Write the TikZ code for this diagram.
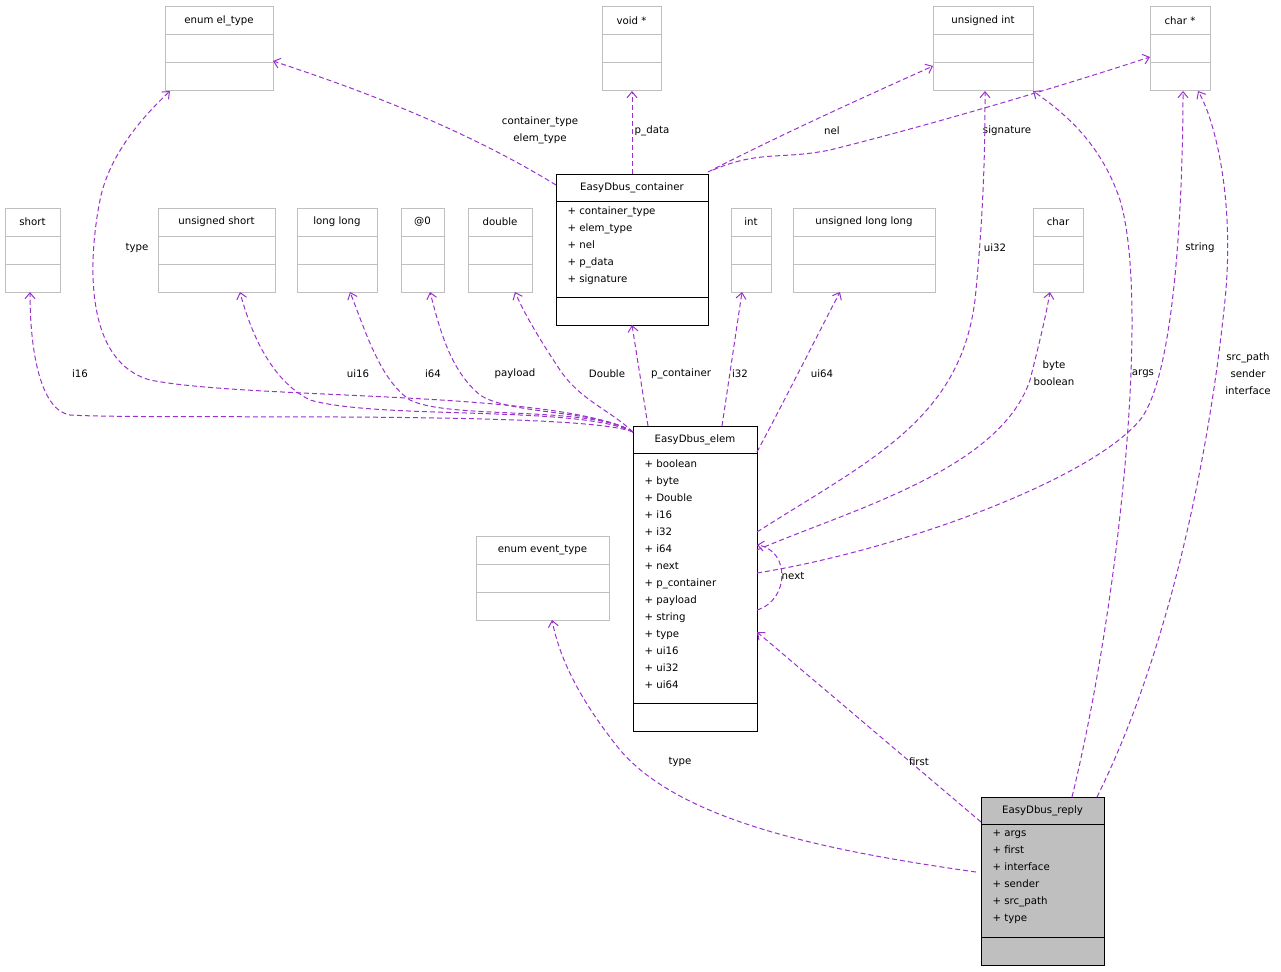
\documentclass[tikz,border=0pt]{standalone}
\usepackage{fontspec}
\setmainfont{DejaVu Sans}
\usetikzlibrary{arrows.meta}
\definecolor{edge}{HTML}{9A32CD}
\definecolor{gbox}{HTML}{BFBFBF}
\begin{document}
\begin{tikzpicture}[x=1pt,y=-1pt,line width=1pt,
  lbl/.style={font=\fontsize{10.2}{17}\selectfont,inner sep=0pt,align=center},
  dep/.style={draw=edge,dash pattern=on 5pt off 3pt,-{Straight Barb[length=6pt,width=10pt]}}]
\useasboundingbox (0,0) rectangle (1281,971);
\newcommand\ubox[9]{%
  \draw[#9] (#2,#3) rectangle (#4,#5);
  \draw[#9] (#2,#6) -- (#4,#6) (#2,#7) -- (#4,#7);
  \node[lbl,anchor=center] (#1) at ({(#2+#4)/2},{(#3+#6)/2}) {#8};}
\fill[gbox] (981,797) rectangle (1104,965);
\ubox{eltype}{165}{7}{273}{91}{35}{63}{enum el\_type}{gbox}
\ubox{voidp}{602}{7}{661}{91}{35}{63}{void *}{gbox}
\ubox{uint}{933}{7}{1033}{91}{35}{63}{unsigned int}{gbox}
\ubox{charp}{1150}{7}{1210}{91}{35}{63}{char *}{gbox}
\ubox{short}{5}{208}{60}{292}{236}{264}{short}{gbox}
\ubox{ushort}{158}{208}{275}{292}{236}{264}{unsigned short}{gbox}
\ubox{ll}{297}{208}{377}{292}{236}{264}{long long}{gbox}
\ubox{at0}{401}{208}{444}{292}{236}{264}{@0}{gbox}
\ubox{dbl}{468}{208}{532}{292}{236}{264}{double}{gbox}
\ubox{int}{731}{208}{771}{292}{236}{264}{int}{gbox}
\ubox{ull}{793}{208}{935}{292}{236}{264}{unsigned long long}{gbox}
\ubox{chr}{1033}{208}{1083}{292}{236}{264}{char}{gbox}
\ubox{evt}{476}{536}{609}{620}{564}{592}{enum event\_type}{gbox}
\ubox{cont}{556}{174}{708}{325}{201}{297}{EasyDbus\_container}{black}
\ubox{elem}{633}{426}{757}{731}{453}{703}{EasyDbus\_elem}{black}
\ubox{reply}{981}{797}{1104}{965}{824}{937}{EasyDbus\_reply}{black}
\node[lbl,anchor=north west,align=left] (contA) at (567,206) {+ container\_type\\+ elem\_type\\+ nel\\+ p\_data\\+ signature};
\node[lbl,anchor=north west,align=left] (elemA) at (644,459) {+ boolean\\+ byte\\+ Double\\+ i16\\+ i32\\+ i64\\+ next\\+ p\_container\\+ payload\\+ string\\+ type\\+ ui16\\+ ui32\\+ ui64};
\node[lbl,anchor=north west,align=left] (replyA) at (992,830) {+ args\\+ first\\+ interface\\+ sender\\+ src\_path\\+ type};
% container edges
\draw[dep] (556,185) .. controls (450,120) and (330,80) .. (273,61);
\draw[dep] (632,174) -- (632,91);
\draw[dep] (708,172) .. controls (790,130) and (880,90) .. (933,66);
\draw[dep] (713,170) .. controls (760,150) and (780,160) .. (830,150) .. controls (950,120) and (1080,80) .. (1150,57);
\node[lbl] (l1) at (540,130) {container\_type\\elem\_type};
\node[lbl] (l2) at (652,131) {p\_data};
\node[lbl] (l3) at (832,131) {nel};
\node[lbl] (l4) at (1007,131) {signature};
% elem edges
\draw[dep] (648,426) -- (632,325);
\draw[dep] (633,432) .. controls (580,410) and (150,420) .. (70,415) .. controls (40,410) and (30,350) .. (30,292);
\draw[dep] (633,432) .. controls (560,390) and (250,400) .. (150,380) .. controls (80,360) and (90,250) .. (100,200) .. controls (110,150) and (150,110) .. (170,91);
\draw[dep] (633,432) .. controls (580,405) and (380,420) .. (310,400) .. controls (270,380) and (250,330) .. (240,292);
\draw[dep] (633,432) .. controls (590,405) and (450,420) .. (410,400) .. controls (380,380) and (365,330) .. (350,292);
\draw[dep] (633,432) .. controls (600,410) and (510,415) .. (480,395) .. controls (450,370) and (440,330) .. (430,292);
\draw[dep] (633,432) .. controls (610,410) and (580,400) .. (560,370) .. controls (540,340) and (525,315) .. (515,292);
\draw[dep] (722,426) -- (742,292);
\draw[dep] (757,452) .. controls (790,390) and (820,330) .. (840,292);
\draw[dep] (757,532) .. controls (870,460) and (960,420) .. (975,300) .. controls (985,200) and (985,130) .. (985,91);
\draw[dep] (757,550) .. controls (850,510) and (1000,470) .. (1030,380) .. controls (1040,340) and (1045,320) .. (1050,292);
\draw[dep] (757,573) .. controls (900,550) and (1090,480) .. (1140,420) .. controls (1180,370) and (1183,150) .. (1183,91);
\draw[dep] (757,610) .. controls (790,600) and (790,550) .. (757,545);
\node[lbl] (m1) at (681,374) {p\_container};
\node[lbl] (m2) at (80,374) {i16};
\node[lbl] (m3) at (137,248) {type};
\node[lbl] (m4) at (358,374) {ui16};
\node[lbl] (m5) at (433,374) {i64};
\node[lbl] (m6) at (515,374) {payload};
\node[lbl] (m7) at (607,374) {Double};
\node[lbl] (m8) at (740,374) {i32};
\node[lbl] (m9) at (822,374) {ui64};
\node[lbl] (m10) at (995,248) {ui32};
\node[lbl] (m11) at (1054,373) {byte\\boolean};
\node[lbl] (m12) at (1200,248) {string};
\node[lbl] (m13) at (793,576) {next};
% reply edges
\draw[dep] (981,822) -- (757,632);
\draw[dep] (976,872) .. controls (820,850) and (680,820) .. (620,750) .. controls (580,700) and (560,660) .. (552,620);
\draw[dep] (1072,797) .. controls (1120,600) and (1150,300) .. (1120,200) .. controls (1100,140) and (1060,110) .. (1033,91);
\draw[dep] (1097,797) .. controls (1170,650) and (1210,450) .. (1225,300) .. controls (1235,200) and (1215,120) .. (1198,91);
\node[lbl] (r1) at (919,762) {first};
\node[lbl] (r2) at (680,762) {type};
\node[lbl] (r3) at (1143,374) {args};
\node[lbl] (r4) at (1248,374) {src\_path\\sender\\interface};
\end{tikzpicture}
\end{document}
